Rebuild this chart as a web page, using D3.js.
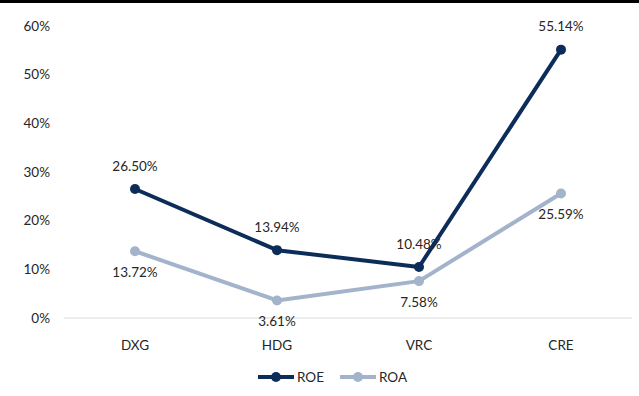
<!DOCTYPE html>
<html>
<head>
	<script src="https://d3js.org/d3.v7.min.js"></script>
	<style>
		body { margin: 0; background: #fff; }
		text { font-family: Lato, "Open Sans", sans-serif; font-size: 13.5px; fill: #262626; }
	</style>
</head>
<body>
	<script type="text/javascript">

		// chart data
		var categories = ["DXG", "HDG", "VRC", "CRE"];
		var roe = [26.50, 13.94, 10.48, 55.14];
		var roa = [13.72, 3.61, 7.58, 25.59];
		var yTicks = [0, 10, 20, 30, 40, 50, 60];

		var w = 639, h = 396;

		var svg = d3.select("body").append("svg")
			.attr("width", w)
			.attr("height", h);

		// black rule at the top
		svg.append("rect")
			.attr("x", 0).attr("y", 0)
			.attr("width", w).attr("height", 3)
			.attr("fill", "#000");

		var xScale = d3.scaleBand()
			.domain(categories)
			.range([64, 632]);

		var yScale = d3.scaleLinear()
			.domain([0, 60])
			.range([318, 26]);

		var cx = function (c) { return xScale(c) + xScale.bandwidth() / 2; };

		// y axis labels
		svg.selectAll(".ytick")
			.data(yTicks)
			.enter()
			.append("text")
			.attr("class", "ytick")
			.attr("x", 50)
			.attr("y", function (d) { return yScale(d); })
			.attr("dy", "0.35em")
			.attr("text-anchor", "end")
			.text(function (d) { return d + "%"; });

		// base line
		svg.append("line")
			.attr("x1", 64).attr("x2", 632)
			.attr("y1", yScale(0)).attr("y2", yScale(0))
			.attr("stroke", "#d9d9d9")
			.attr("stroke-width", 1);

		// category labels
		svg.selectAll(".xtick")
			.data(categories)
			.enter()
			.append("text")
			.attr("class", "xtick")
			.attr("x", function (d) { return cx(d); })
			.attr("y", 345)
			.attr("dy", "0.35em")
			.attr("text-anchor", "middle")
			.text(function (d) { return d; });

		var series = [
			{ name: "ROE", values: roe, color: "#0c2d5a", above: true },
			{ name: "ROA", values: roa, color: "#a3b3cb", above: false }
		];

		var line = d3.line()
			.x(function (d, i) { return cx(categories[i]); })
			.y(function (d) { return yScale(d); });

		// draw ROA first so ROE sits on top
		series.slice().reverse().forEach(function (s) {
			svg.append("path")
				.datum(s.values)
				.attr("d", line)
				.attr("fill", "none")
				.attr("stroke", s.color)
				.attr("stroke-width", 4)
				.attr("stroke-linejoin", "round");

			svg.selectAll(".dot-" + s.name)
				.data(s.values)
				.enter()
				.append("circle")
				.attr("cx", function (d, i) { return cx(categories[i]); })
				.attr("cy", function (d) { return yScale(d); })
				.attr("r", 5)
				.attr("fill", s.color);
		});

		// value labels
		series.forEach(function (s) {
			svg.selectAll(".lab-" + s.name)
				.data(s.values)
				.enter()
				.append("text")
				.attr("x", function (d, i) { return cx(categories[i]); })
				.attr("y", function (d) { return yScale(d) + (s.above ? -23 : 21); })
				.attr("dy", "0.35em")
				.attr("text-anchor", "middle")
				.text(function (d) { return d.toFixed(2) + "%"; });
		});

		// legend
		var legend = svg.selectAll(".legend")
			.data(series)
			.enter()
			.append("g")
			.attr("transform", function (d, i) { return "translate(" + (258 + i * 82) + ",377)"; });

		legend.append("line")
			.attr("x1", 0).attr("x2", 36)
			.attr("y1", 0).attr("y2", 0)
			.attr("stroke", function (d) { return d.color; })
			.attr("stroke-width", 4);

		legend.append("circle")
			.attr("cx", 18).attr("cy", 0).attr("r", 5)
			.attr("fill", function (d) { return d.color; });

		legend.append("text")
			.attr("x", 39).attr("y", 0)
			.attr("dy", "0.35em")
			.text(function (d) { return d.name; });

	</script>
</body>
</html>
